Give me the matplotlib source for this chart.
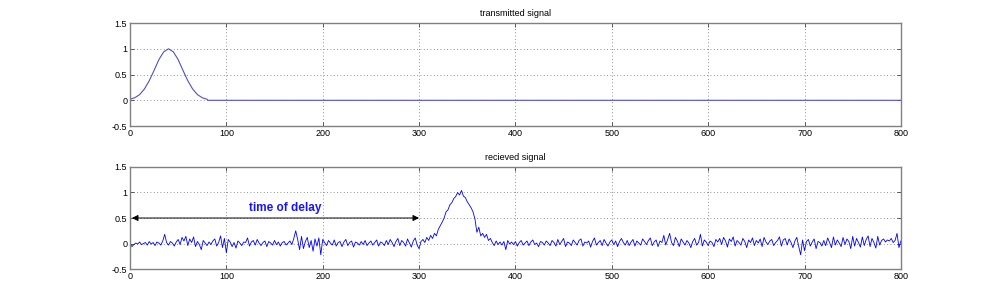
import numpy as np
import matplotlib
matplotlib.use("Agg")
import matplotlib.pyplot as plt

plt.rcParams["font.family"] = ["Liberation Sans", "DejaVu Sans"]

# ──────────────────────────────────────────────────────────────
# DATOS
# ──────────────────────────────────────────────────────────────

# senal transmitida: pulso al inicio y luego cero
tx_n = [0, 5, 10, 15, 20, 25, 30, 35, 40, 45, 50, 55, 60, 65, 70, 75, 80, 81, 800]
tx_y = [0.02, 0.05, 0.11, 0.22, 0.38, 0.58, 0.79, 0.94, 1.0,
        0.94, 0.79, 0.58, 0.38, 0.22, 0.11, 0.05, 0.02, 0.0, 0.0]

# senal recibida, una muestra cada 2 (n = 0, 2, ..., 800)
rx_y = [
    0, -.06, -.02, .01, -.01, .03, -.02, 0, .02, -.03, .04, -.01, .02, -.04, .03, .01, -.03, .05, .18, .02,
    -.03, .04, .01, -.05, .03, .08, -.02, .12, .05, .14, -.04, .09, .02, .13, -.06, .04, -.02, -.12, .06, .01,
    -.04, .03, -.02, .05, .09, -.05, .02, .15, -.08, .1, -.18, .08, .03, -.06, .02, -.09, .05, .01, -.04, .03,
    .02, .11, -.05, .03, .06, -.03, .08, .01, -.04, .02, .05, -.06, .04, .01, -.03, .06, -.02, .03, -.05, .02,
    .04, -.03, .01, .05, -.02, .1, .25, .08, -.12, .14, -.1, .04, .12, -.08, .06, -.15, .09, -.05, .11, -.22,
    .08, .02, -.04, .06, .01, -.03, .07, -.05, .02, .04, -.06, .03, .08, -.04, .02, .05, -.07, .03, .01, -.03,
    .04, -.02, .06, -.04, .01, .05, -.03, .02, .07, -.05, .03, .01, -.04, .06, -.02, .08, .02, -.06, .04, .1,
    -.04, .06, .02, -.05, .09, .01, -.07, .05, .11, -.03, -.1, .04, .08, .02, .12, .06, .16, .1, .2, .15,
    .28, .35, .42, .5, .62, .66, .76, .8, .88, .92, 1.0, .95, 1.04, .93, .9, .82, .76, .7, .62, .48,
    .22, .32, .15, .2, .12, .18, .06, .1, .02, -.04, .05, -.02, .03, -.03, .04, -.12, .06, -.01, .03, -.02,
    .04, -.05, .02, .06, -.03, .01, .05, -.04, .03, .07, -.02, .01, -.06, .04, .02, -.03, .05, .01, -.04, .06,
    .02, -.05, .08, -.02, .04, .1, -.06, .03, .01, -.04, .07, .02, -.03, .06, .09, -.05, .03, .01, .05, -.07,
    .04, .11, -.03, .02, .06, -.04, .08, .01, -.05, .03, .07, -.02, .05, -.06, .04, .1, .02, -.03, .06, -.04,
    .03, .08, -.05, .05, .01, -.03, .09, .04, -.02, .06, .11, -.04, .03, .07, -.06, .05, .02, .16, -.03, .08,
    .2, .02, -.04, .12, .05, -.06, .09, .03, -.03, .06, .01, -.08, .04, .1, -.03, .02, .18, -.05, .07, .03,
    -.04, .05, .02, -.06, .08, .03, .1, -.02, .12, .05, -.07, .09, .04, .13, -.05, .06, .02, -.03, .1, .04,
    -.08, .07, .02, .11, -.04, .06, .01, .09, -.06, .12, .03, -.02, .05, .08, -.04, .02, .06, .13, -.05, .07,
    .1, -.03, .09, .02, -.08, .05, .12, -.06, -.22, .07, -.14, .04, .08, -.05, .03, .09, -.1, .04, .02, -.05,
    .06, -.04, .11, .02, -.08, .13, -.03, .07, .01, -.06, .12, -.02, .09, .04, -.1, .14, -.05, .1, .02, -.07,
    .13, -.04, .08, .15, -.06, .1, .02, -.09, .14, -.03, .06, .09, .03, .07, .05, .1, .02, .06, .2, -.08,
    .05,
]
rx_n = np.arange(0, 801, 2)

retardo = [2, 300]      # inicio y fin de la flecha
nivel_flecha = 0.5

x_ticks = [0, 100, 200, 300, 400, 500, 600, 700, 800]
y_ticks = [-0.5, 0, 0.5, 1, 1.5]
y_labels = ["-0.5", "0", "0.5", "1", "1.5"]


def estilo_ejes(ax, titulo):
    ax.set_xlim(0, 800)
    ax.set_ylim(-0.5, 1.5)
    ax.set_xticks(x_ticks)
    ax.set_yticks(y_ticks)
    ax.set_yticklabels(y_labels)
    ax.tick_params(direction="in", length=3, width=0.6, labelsize=6.5,
                   top=True, right=True, color="#404040", pad=2)
    for s in ax.spines.values():
        s.set_color("#808080")
        s.set_linewidth(1.0)
    ax.grid(True, linestyle=(0, (1, 3)), color="#707070", linewidth=0.6)
    ax.set_title(titulo, fontsize=6.5, pad=5)


fig = plt.figure(figsize=(9.96, 3.03), dpi=100)
ax1 = fig.add_axes([0.1305, 0.584, 0.774, 0.340])
ax2 = fig.add_axes([0.1305, 0.112, 0.774, 0.337])

ax1.plot(tx_n, tx_y, color="#5050c8", linewidth=0.8)
estilo_ejes(ax1, "transmitted signal")

ax2.plot(rx_n, rx_y, color="#0000ff", linewidth=0.6)
estilo_ejes(ax2, "recieved signal")

ax2.annotate("", xy=(retardo[1], nivel_flecha), xytext=(retardo[0], nivel_flecha),
             arrowprops=dict(arrowstyle="<|-|>", color="black", lw=0.7,
                             mutation_scale=9, shrinkA=0, shrinkB=0))
ax2.text(161, 0.70, "time of delay", color="#1515ff", fontsize=8.5,
         fontweight="bold", ha="center", va="center")

fig.savefig("out.png", dpi=100)
